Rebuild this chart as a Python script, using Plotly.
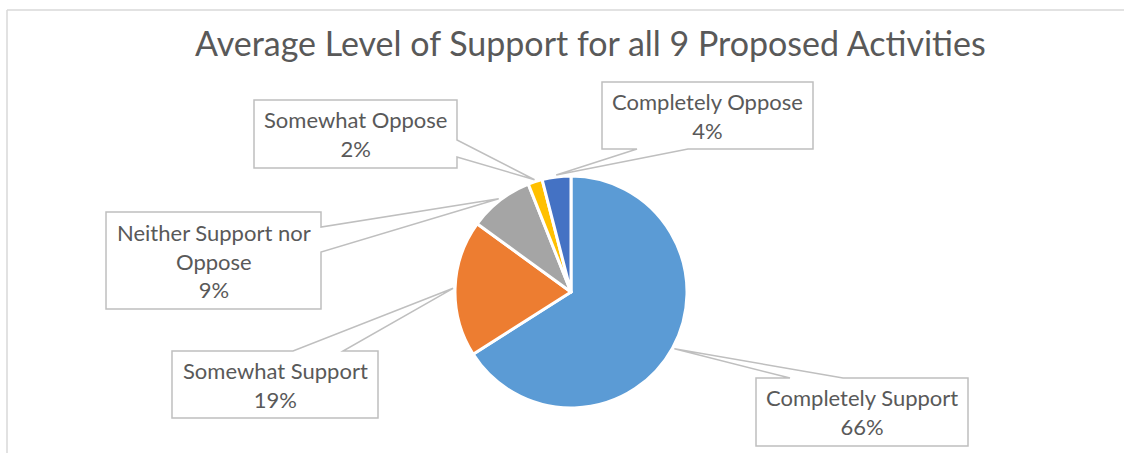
import math
import plotly.graph_objects as go

# ---- data ----
categories = ["Completely Support", "Somewhat Support", "Neither Support nor Oppose",
              "Somewhat Oppose", "Completely Oppose"]
values = [66, 19, 9, 2, 4]
label_text = ["Completely Support", "Somewhat Support", "Neither Support nor<br>Oppose",
              "Somewhat Oppose", "Completely Oppose"]
colors = ["#5B9BD5", "#ED7D31", "#A5A5A5", "#FFC000", "#4472C4"]
title_text = "Average Level of Support for all 9 Proposed Activities"

# ---- layout (pixels) ----
W, H = 1124, 453
CX, CY, R = 571, 292, 116
# callout boxes: x0, y0, x1, y1, edge where the pointer leaves, pointer base a, b
boxes = [
    (756, 378, 968, 446, "top", 790, 843),
    (172, 351, 378, 418, "top", 293, 343),
    (106, 212, 321, 309, "right", 227, 252),
    (254, 100, 457, 168, "right", 140, 157),
    (602, 82, 813, 149, "bottom", 637, 688),
]
FONT = "Lato"
TXT = "#595959"
BOX_LINE = "#BFBFBF"


def px(x):
    return x / W


def py(y):
    return 1 - y / H


fig = go.Figure()
fig.add_trace(go.Pie(
    labels=categories, values=values, sort=False, direction="clockwise", rotation=0,
    marker=dict(colors=colors, line=dict(color="white", width=3)),
    textinfo="none", hoverinfo="label+percent", showlegend=False,
    domain=dict(x=[px(CX - R), px(CX + R)], y=[py(CY + R), py(CY - R)]),
))

shapes = []
annotations = []
total = sum(values)
cum = 0
for i, v in enumerate(values):
    mid = (cum + v / 2) / total
    cum += v
    th = 2 * math.pi * mid
    tx = CX + (R + 2) * math.sin(th)
    ty = CY - (R + 2) * math.cos(th)
    x0, y0, x1, y1, edge, a, b = boxes[i]
    if edge == "top":
        pts = [(x0, y0), (a, y0), (tx, ty), (b, y0), (x1, y0), (x1, y1), (x0, y1)]
    elif edge == "right":
        pts = [(x0, y0), (x1, y0), (x1, a), (tx, ty), (x1, b), (x1, y1), (x0, y1)]
    else:  # bottom
        pts = [(x0, y0), (x1, y0), (x1, y1), (b, y1), (tx, ty), (a, y1), (x0, y1)]
    path = "M " + " L ".join(f"{px(p[0]):.5f},{py(p[1]):.5f}" for p in pts) + " Z"
    shapes.append(dict(type="path", path=path, xref="paper", yref="paper",
                       fillcolor="white", line=dict(color=BOX_LINE, width=1.5), layer="above"))
    pct = round(100 * v / total)
    annotations.append(dict(
        x=px((x0 + x1) / 2), y=py((y0 + y1) / 2), xref="paper", yref="paper",
        xanchor="center", yanchor="middle", showarrow=False, align="center",
        text=f"{label_text[i]}<br>{pct}%",
        font=dict(family=FONT, size=22, color=TXT),
    ))

# chart frame (top and left edges visible)
shapes.append(dict(type="line", xref="paper", yref="paper", x0=px(7), y0=py(10), x1=px(W), y1=py(10),
                   line=dict(color="#D9D9D9", width=1.5)))
shapes.append(dict(type="line", xref="paper", yref="paper", x0=px(7), y0=py(10), x1=px(7), y1=py(H),
                   line=dict(color="#D9D9D9", width=1.5)))

annotations.append(dict(
    x=px(591), y=py(42), xref="paper", yref="paper", xanchor="center", yanchor="middle",
    showarrow=False, text=title_text, font=dict(family=FONT, size=34, color=TXT),
))

fig.update_layout(
    width=W, height=H, margin=dict(l=0, r=0, t=0, b=0),
    paper_bgcolor="white", plot_bgcolor="white",
    shapes=shapes, annotations=annotations,
)
fig.write_html("out.html", config={"displayModeBar": False},
               post_script="document.body.style.margin='0';")
